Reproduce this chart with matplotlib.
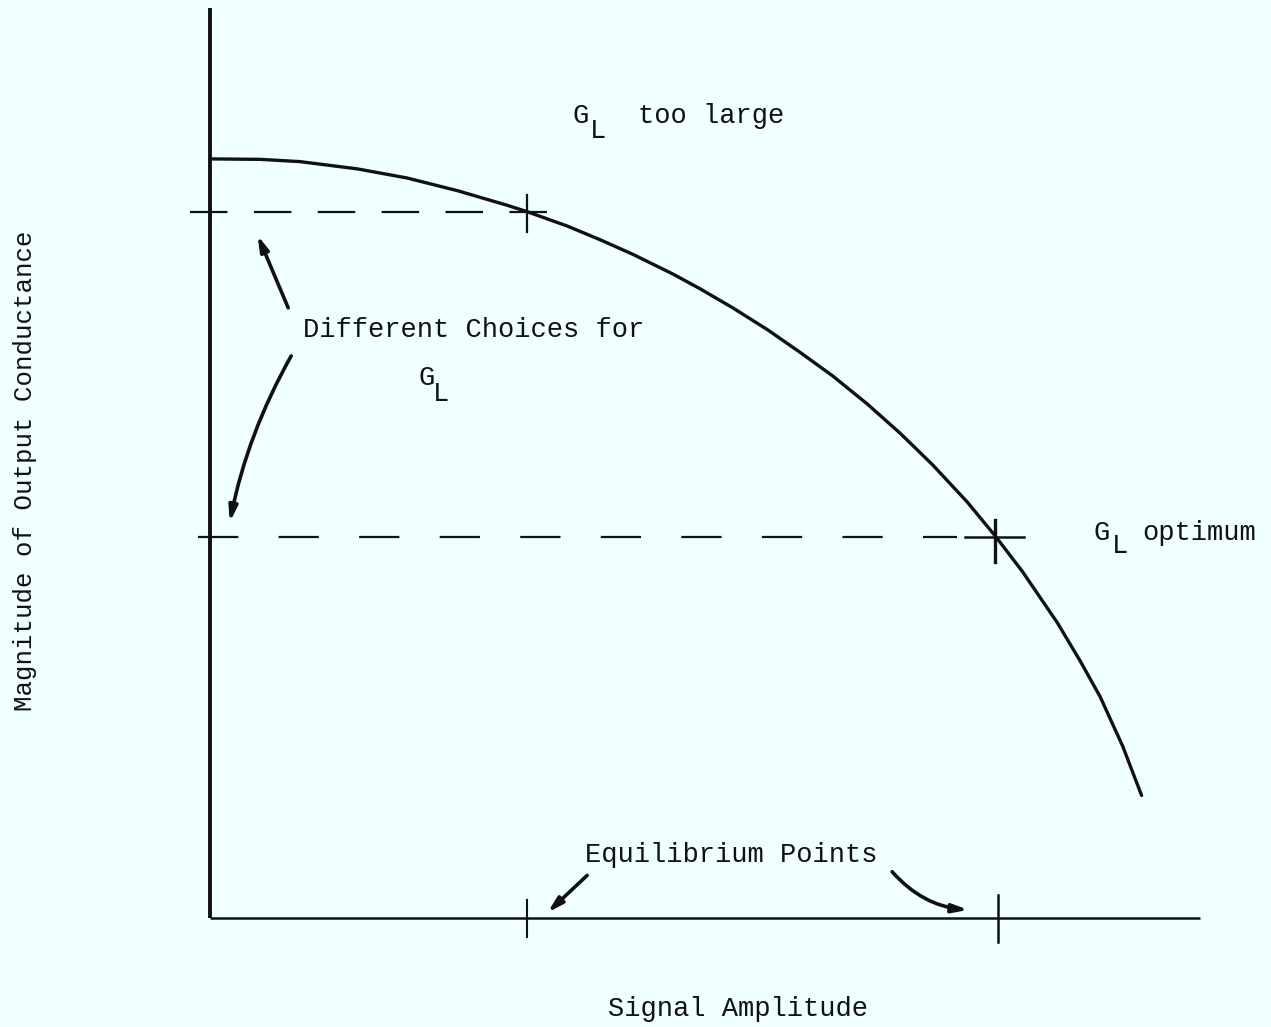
import matplotlib
matplotlib.use("Agg")
import matplotlib.pyplot as plt

# --- data (arbitrary units, origin at the axes corner) ---
amplitude = [0.00, 0.51, 0.91, 1.49, 1.99, 2.50, 3.00, 3.20, 3.61, 3.94,
             4.27, 4.68, 4.95, 5.28, 5.63, 5.96, 6.29, 6.64, 6.97, 7.30,
             7.65, 7.93, 8.21, 8.56, 8.79, 8.99, 9.22, 9.41]
conductance = [8.36, 8.355, 8.33, 8.25, 8.15, 8.01, 7.85, 7.78, 7.62, 7.47,
               7.31, 7.09, 6.93, 6.72, 6.48, 6.23, 5.97, 5.66, 5.34, 4.99,
               4.58, 4.21, 3.81, 3.25, 2.83, 2.44, 1.89, 1.35]

gl_levels = [7.78, 4.20]          # too large, optimum
equilibrium = [3.20, 7.95]        # where the curve meets each G_L line

BG = "#f0ffff"
INK = "#111111"
FONT = "Liberation Mono"

plt.rcParams["lines.scale_dashes"] = False
plt.rcParams["font.family"] = [FONT, "DejaVu Sans Mono"]

fig = plt.figure(figsize=(12.71, 10.27), dpi=100, facecolor=BG)
ax = fig.add_axes([0, 0, 1, 1])
ax.set_facecolor(BG)
ax.set_xlim(-2.121, 10.717)
ax.set_ylim(-1.200, 10.110)
ax.axis("off")

# axes drawn by hand, like the original sketch
ax.plot([0, 0], [0, 10.02], color=INK, lw=2.8, solid_capstyle="butt")
ax.plot([0, 10.0], [0, 0], color=INK, lw=1.8, solid_capstyle="butt")

# characteristic curve
ax.plot(amplitude, conductance, color=INK, lw=2.4,
        solid_capstyle="round", solid_joinstyle="round")

# G_L lines
ax.plot([-0.20, 3.45], [gl_levels[0]] * 2, color=INK, lw=1.6,
        dashes=(27, 19))
ax.plot([-0.12, 7.55], [gl_levels[1]] * 2, color=INK, lw=1.6,
        dashes=(29, 29))
ax.plot([7.63, 8.22], [gl_levels[1]] * 2, color=INK, lw=1.8)

# crossing marks on the curve and on the amplitude axis
ax.plot([equilibrium[0]] * 2, [gl_levels[0] + 0.18, gl_levels[0] - 0.22],
        color=INK, lw=1.6)
ax.plot([equilibrium[1] - 0.02] * 2, [gl_levels[1] + 0.18, gl_levels[1] - 0.28],
        color=INK, lw=2.4)
ax.plot([equilibrium[0]] * 2, [0.20, -0.21], color=INK, lw=1.5)
ax.plot([equilibrium[1] + 0.01] * 2, [0.25, -0.26], color=INK, lw=1.8)

fs = 19.5
txt = dict(color=INK, fontsize=fs, family=[FONT, "DejaVu Sans Mono"],
           ha="left", va="baseline")

ax.text(3.66, 8.76, "G", **txt)
ax.text(3.84, 8.59, "L", **txt)
ax.text(4.32, 8.76, "too large", **txt)

ax.text(0.94, 6.40, "Different Choices for", **txt)
ax.text(2.11, 5.87, "G", **txt)
ax.text(2.25, 5.69, "L", **txt)

ax.text(8.92, 4.16, "G", **txt)
ax.text(9.11, 4.02, "L", **txt)
ax.text(9.42, 4.16, "optimum", **txt)

ax.text(3.79, 0.62, "Equilibrium Points", **txt)

ax.text(4.02, -1.08, "Signal Amplitude", **txt)
ax.text(-1.87, 4.93, "Magnitude of Output Conductance", color=INK,
        fontsize=18.5, family=[FONT, "DejaVu Sans Mono"],
        rotation=90, ha="center", va="center")

# hand drawn arrows
arrow = dict(arrowstyle="-|>,head_length=0.9,head_width=0.25",
             color=INK, lw=2.6, shrinkA=0, shrinkB=0)
ax.annotate("", xy=(0.48, 7.52), xytext=(0.79, 6.72),
            arrowprops=dict(connectionstyle="arc3,rad=0.0", **arrow))
ax.annotate("", xy=(0.20, 4.36), xytext=(0.82, 6.19),
            arrowprops=dict(connectionstyle="arc3,rad=0.08", **arrow))
ax.annotate("", xy=(3.41, 0.06), xytext=(3.81, 0.47),
            arrowprops=dict(connectionstyle="arc3,rad=0.0", **arrow))
ax.annotate("", xy=(7.66, 0.09), xytext=(6.89, 0.51),
            arrowprops=dict(connectionstyle="arc3,rad=0.2", **arrow))

fig.savefig("out.png", dpi=100, facecolor=BG)
